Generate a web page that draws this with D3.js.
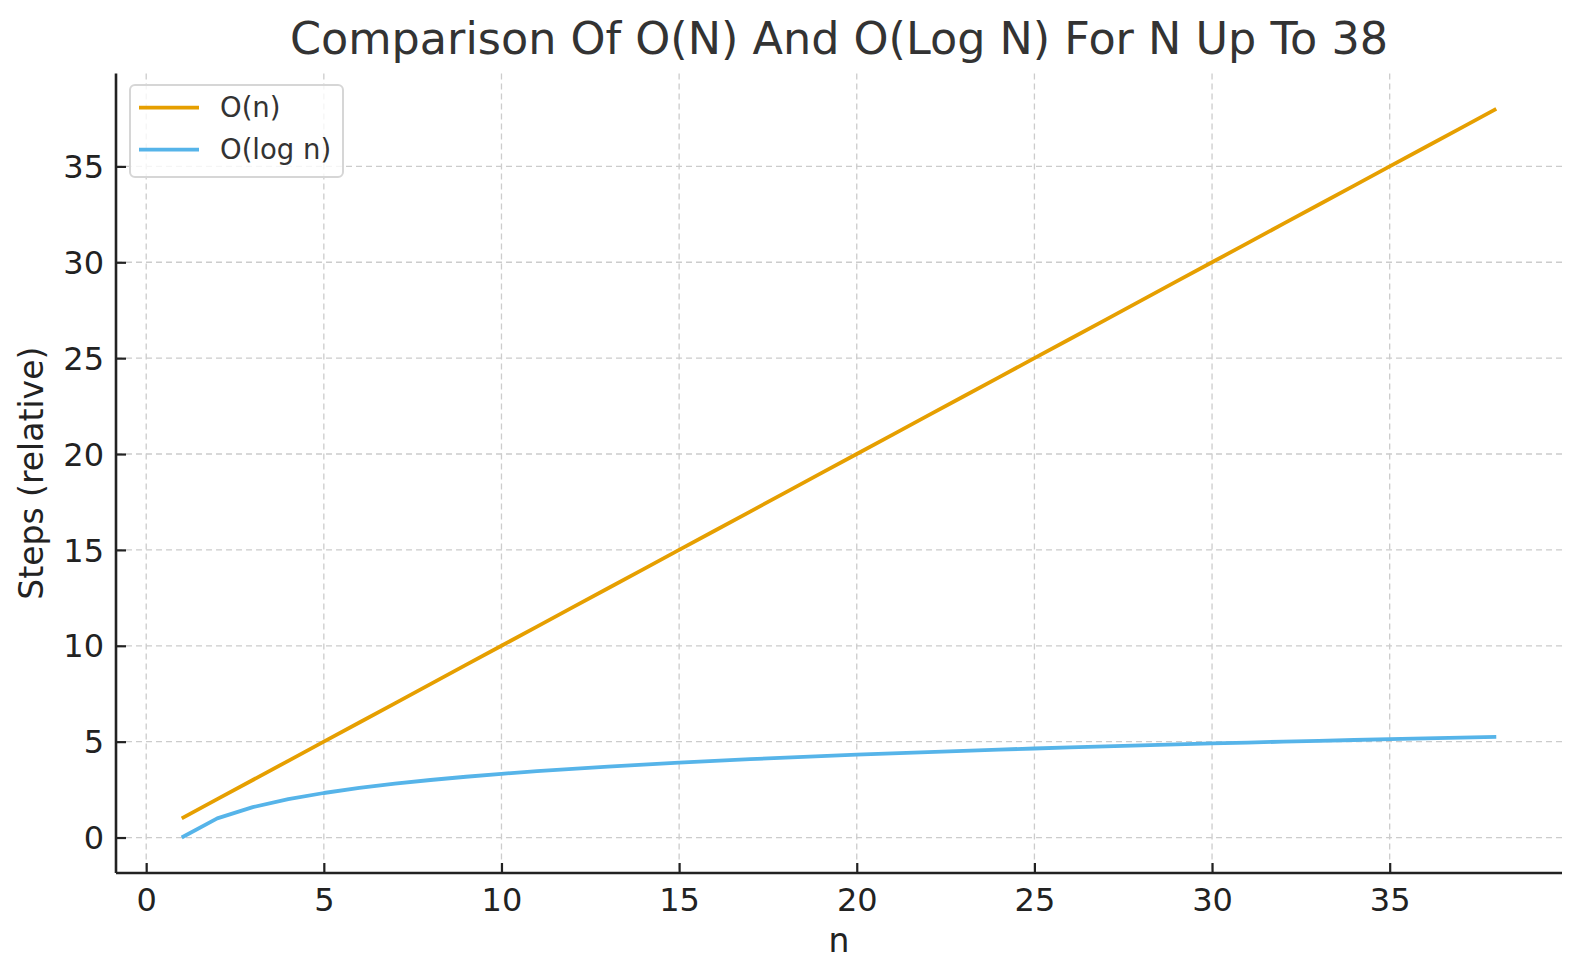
<!DOCTYPE html>
<html>
<head>
<meta charset="utf-8">
<script src="https://cdn.jsdelivr.net/npm/d3@7"></script>
<style>
  html, body { margin: 0; padding: 0; background: #fff; }
  svg { display: block; font-family: "DejaVu Sans", sans-serif; }
</style>
</head>
<body>
<svg id="chart" width="1580" height="980"></svg>
<script>
// ---- data ----
const nValues = [1,2,3,4,5,6,7,8,9,10,11,12,13,14,15,16,17,18,19,20,21,22,23,24,25,26,27,28,29,30,31,32,33,34,35,36,37,38];
const linearSteps = [1,2,3,4,5,6,7,8,9,10,11,12,13,14,15,16,17,18,19,20,21,22,23,24,25,26,27,28,29,30,31,32,33,34,35,36,37,38];
const logSteps = [0,1,1.585,2,2.322,2.585,2.807,3,3.17,3.322,3.459,3.585,3.7,3.807,3.907,4,4.087,4.17,4.248,4.322,4.392,4.459,4.524,4.585,4.644,4.7,4.755,4.807,4.858,4.907,4.954,5,5.044,5.087,5.129,5.17,5.209,5.248];
const seriesNames = ["O(n)", "O(log n)"];
const xTicks = [0,5,10,15,20,25,30,35];
const yTicks = [0,5,10,15,20,25,30,35];
const titleText = "Comparison Of O(N) And O(Log N) For N Up To 38";
const xLabel = "n";
const yLabel = "Steps (relative)";

// ---- layout ----
const svg = d3.select("#chart");
const L = 116, R = 1562, T = 73.4, B = 873;
const colors = ["#E69F00", "#56B4E9"];

const x = d3.scaleLinear().domain([-0.85, 39.85]).range([L, R]);
const y = d3.scaleLinear().domain([-1.85, 39.85]).range([B, T]);

// grid
const grid = svg.append("g");
grid.selectAll("line.gx").data(xTicks).join("line")
  .attr("x1", d => x(d)).attr("x2", d => x(d))
  .attr("y1", T).attr("y2", B)
  .attr("stroke", "#cccccc").attr("stroke-width", 1.3).attr("stroke-dasharray", "6,4");
grid.selectAll("line.gy").data(yTicks).join("line")
  .attr("x1", L).attr("x2", R)
  .attr("y1", d => y(d)).attr("y2", d => y(d))
  .attr("stroke", "#cccccc").attr("stroke-width", 1.3).attr("stroke-dasharray", "6,4");

// lines
const seriesData = [linearSteps, logSteps];
const line = d3.line().x((d, i) => x(nValues[i])).y(d => y(d));
seriesData.forEach((s, k) => {
  svg.append("path").datum(s)
    .attr("d", line)
    .attr("fill", "none")
    .attr("stroke", colors[k])
    .attr("stroke-width", 3.8)
    .attr("stroke-linejoin", "round")
    .attr("stroke-linecap", "butt");
});

// axes
const xAxis = d3.axisBottom(x).tickValues(xTicks).tickSize(-10).tickPadding(15).tickFormat(d3.format("d"));
const yAxis = d3.axisLeft(y).tickValues(yTicks).tickSize(-10).tickPadding(12).tickFormat(d3.format("d"));

const gx = svg.append("g").attr("transform", `translate(0,${B})`).call(xAxis);
const gy = svg.append("g").attr("transform", `translate(${L},0)`).call(yAxis);
[gx, gy].forEach(g => {
  g.select(".domain").attr("stroke", "#222").attr("stroke-width", 2.6);
  g.selectAll(".tick line").attr("stroke", "#222").attr("stroke-width", 2.2);
  g.selectAll(".tick text").attr("fill", "#222").style("font-size", "32px")
    .style("font-family", "'DejaVu Sans', sans-serif");
});
gx.selectAll(".tick text").attr("dy", "0.71em");
gy.selectAll(".tick text").attr("dy", "0.35em");
gx.select(".domain").attr("d", `M${L},0H${R}`);
gy.select(".domain").attr("d", `M0,${B}V${T}`);

// title
svg.append("text")
  .attr("x", (L + R) / 2).attr("y", 54)
  .attr("text-anchor", "middle")
  .attr("fill", "#333")
  .style("font-size", "44.5px")
  .text(titleText);

// axis labels
svg.append("text")
  .attr("x", (L + R) / 2).attr("y", 952)
  .attr("text-anchor", "middle")
  .attr("fill", "#222")
  .style("font-size", "33px")
  .text(xLabel);
svg.append("text")
  .attr("transform", `translate(43,${(T + B) / 2}) rotate(-90)`)
  .attr("text-anchor", "middle")
  .attr("fill", "#222")
  .style("font-size", "33px")
  .text(yLabel);

// legend
const lg = svg.append("g");
lg.append("rect")
  .attr("x", 130).attr("y", 85).attr("width", 213).attr("height", 92)
  .attr("rx", 5).attr("ry", 5)
  .attr("fill", "#fff").attr("fill-opacity", 0.8)
  .attr("stroke", "#d6d6d6").attr("stroke-width", 2);
seriesNames.forEach((name, k) => {
  const ly = 107.7 + k * 42;
  lg.append("line")
    .attr("x1", 139).attr("x2", 199).attr("y1", ly).attr("y2", ly)
    .attr("stroke", colors[k]).attr("stroke-width", 3.8);
  lg.append("text")
    .attr("x", 220).attr("y", ly).attr("dy", "0.35em")
    .attr("fill", "#333")
    .style("font-size", "27.5px")
    .text(name);
});
</script>
</body>
</html>
